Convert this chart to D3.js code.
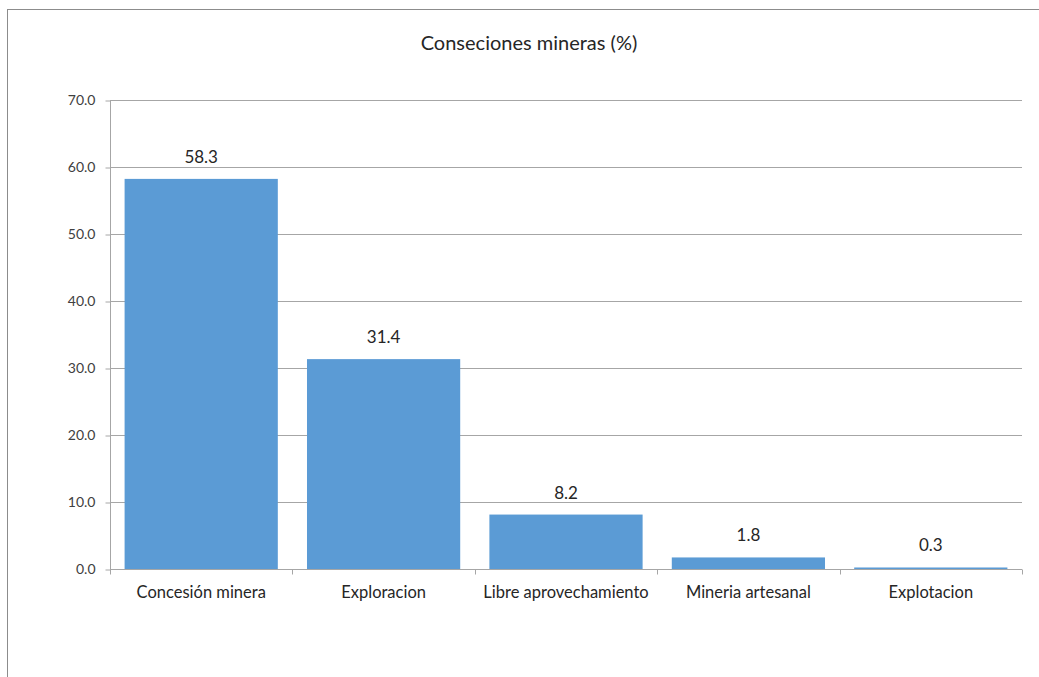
<!DOCTYPE html>
<html>
<head>
<meta charset="utf-8">
<script src="https://cdn.jsdelivr.net/npm/d3@7"></script>
<style>
  body { margin: 0; background: #fff; }
  text { font-family: Lato, "Open Sans", sans-serif; }
</style>
</head>
<body>
<div id="chart"></div>
<script>
// data
var categories = ["Concesión minera", "Exploracion", "Libre aprovechamiento", "Mineria artesanal", "Explotacion"];
var values = [58.3, 31.4, 8.2, 1.8, 0.3];
var yTicks = [0, 10, 20, 30, 40, 50, 60, 70];
var title = "Conseciones mineras (%)";

var w = 1039, h = 677;
var plotLeft = 110, plotRight = 1022, plotTop = 100.5, plotBottom = 569.5;
var gridColor = "#a6a6a6";

var svg = d3.select("#chart").append("svg")
    .attr("width", w)
    .attr("height", h);

// outer chart border (cropped on right/bottom)
svg.append("rect")
    .attr("x", 7.5).attr("y", 9.5)
    .attr("width", 1100).attr("height", 800)
    .style("fill", "none")
    .style("stroke", "#8c8c8c");

svg.append("text")
    .attr("x", 529).attr("y", 50)
    .attr("text-anchor", "middle")
    .style("font-size", "20px")
    .style("fill", "#262626")
    .text(title);

var x = d3.scaleBand()
    .domain(categories)
    .range([plotLeft, plotRight])
    .paddingInner(0.16)
    .paddingOuter(0.08);

var y = d3.scaleLinear()
    .domain([0, 70])
    .range([plotBottom, plotTop]);

// gridlines
svg.append("g").selectAll("line")
    .data(yTicks.slice(1))
    .enter().append("line")
    .attr("x1", plotLeft).attr("x2", plotRight)
    .attr("y1", function(d) { return y(d); })
    .attr("y2", function(d) { return y(d); })
    .style("stroke", gridColor);

// y axis
var yAxis = svg.append("g")
    .attr("transform", "translate(" + (plotLeft + 0.5) + ",0)")
    .call(d3.axisLeft(y).tickValues(yTicks).tickSize(5).tickFormat(d3.format(".1f")));
yAxis.select(".domain").style("stroke", gridColor).attr("d", "M0," + plotBottom + "V" + plotTop);
yAxis.selectAll(".tick line").style("stroke", gridColor);
yAxis.selectAll(".tick text")
    .attr("x", -15)
    .style("font-size", "14px")
    .style("fill", "#404040");

// bars
svg.append("g").selectAll("rect")
    .data(values)
    .enter().append("rect")
    .attr("x", function(d, i) { return x(categories[i]); })
    .attr("y", function(d) { return y(d); })
    .attr("width", x.bandwidth())
    .attr("height", function(d) { return plotBottom - y(d); })
    .style("fill", "#5b9bd5");

// value labels
svg.append("g").selectAll("text")
    .data(values)
    .enter().append("text")
    .attr("x", function(d, i) { return x(categories[i]) + x.bandwidth() / 2; })
    .attr("y", function(d) { return y(d) - 16; })
    .attr("text-anchor", "middle")
    .style("font-size", "17px")
    .style("fill", "#262626")
    .text(function(d) { return d.toFixed(1); });

// x axis
var xAxis = svg.append("g")
    .attr("transform", "translate(0," + plotBottom + ")")
    .call(d3.axisBottom(x).tickSize(0).tickPadding(0));
xAxis.select(".domain").remove();
xAxis.append("line")
    .attr("x1", plotLeft).attr("x2", plotRight)
    .style("stroke", gridColor);
var step = x.step();
xAxis.selectAll(".sep")
    .data(d3.range(categories.length + 1))
    .enter().append("line")
    .attr("class", "sep")
    .attr("x1", function(i) { return Math.round(plotLeft + i * step) + 0.5; })
    .attr("x2", function(i) { return Math.round(plotLeft + i * step) + 0.5; })
    .attr("y1", 0).attr("y2", 5)
    .style("stroke", gridColor);
xAxis.selectAll(".tick text")
    .attr("dy", null)
    .attr("y", 28)
    .style("font-size", "16.5px")
    .style("fill", "#262626");
</script>
</body>
</html>
